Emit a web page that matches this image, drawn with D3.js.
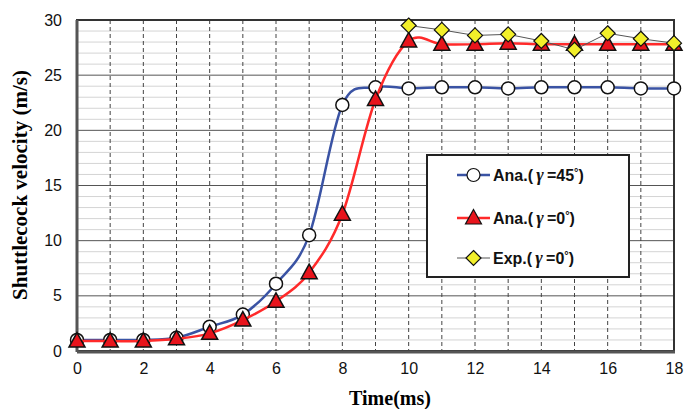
<!DOCTYPE html>
<html><head><meta charset="utf-8">
<script src="https://cdn.jsdelivr.net/npm/d3@7"></script>
<style>body{margin:0;background:#fff}svg{display:block}</style>
</head><body>
<svg id="c" width="685" height="409"></svg>
<script>
const times = [0,1,2,3,4,5,6,7,8,9,10,11,12,13,14,15,16,17,18];
const ana45 = [1.0,1.0,1.0,1.2,2.2,3.3,6.1,10.5,22.3,23.9,23.8,23.9,23.9,23.8,23.9,23.9,23.9,23.8,23.8];
const ana0 = [0.9,0.9,0.9,1.1,1.6,2.8,4.5,7.1,12.4,22.8,28.1,27.8,27.8,27.9,27.8,27.8,27.8,27.8,27.8];
const expTimes = [10,11,12,13,14,15,16,17,18];
const exp0 = [29.5,29.1,28.6,28.7,28.1,27.3,28.8,28.3,27.9];
const xTicks = [0,2,4,6,8,10,12,14,16,18];
const yTicks = [0,5,10,15,20,25,30];
const legendPrefix = ["Ana.","Ana.","Exp."];
const legendAngle = ["45","0","0"];

const svg = d3.select("#c");
const L = 77, R = 674, T = 20, B = 351;
const x = d3.scaleLinear().domain([0,18]).range([L,R]);
const y = d3.scaleLinear().domain([0,30]).range([B,T]);

// minor horizontal grid
svg.append("g").selectAll("line").data(d3.range(1,30).filter(v=>v%5!==0)).join("line")
  .attr("x1",L).attr("x2",R).attr("y1",d=>y(d)).attr("y2",d=>y(d))
  .attr("stroke","#d4d4d4").attr("stroke-width",1);
// major horizontal grid
svg.append("g").selectAll("line").data([5,10,15,20,25]).join("line")
  .attr("x1",L).attr("x2",R).attr("y1",d=>y(d)).attr("y2",d=>y(d))
  .attr("stroke","#555").attr("stroke-width",1);
// vertical dashed grid
svg.append("g").selectAll("line").data(d3.range(1,18)).join("line")
  .attr("x1",d=>x(d)).attr("x2",d=>x(d)).attr("y1",T).attr("y2",B)
  .attr("stroke","#444").attr("stroke-width",1).attr("stroke-dasharray","4,3");

// frame
svg.append("rect").attr("x",L).attr("y",T).attr("width",R-L).attr("height",B-T)
  .attr("fill","none").attr("stroke","#333").attr("stroke-width",2);
svg.append("line").attr("x1",L).attr("x2",L).attr("y1",T).attr("y2",B+1).attr("stroke","#555").attr("stroke-width",3);
svg.append("line").attr("x1",L).attr("x2",R+1).attr("y1",B+1).attr("y2",B+1).attr("stroke","#555").attr("stroke-width",3);

// axes tick labels
const xAxis = d3.axisBottom(x).tickValues(xTicks).tickSize(0).tickPadding(12);
const gx = svg.append("g").attr("transform",`translate(0,${B})`).call(xAxis);
gx.select(".domain").remove();
gx.selectAll("text").attr("font-family","'Liberation Sans',Arial,sans-serif").attr("font-size",16).attr("fill","#111");
const yAxis = d3.axisLeft(y).tickValues(yTicks).tickSize(0).tickPadding(15);
const gy = svg.append("g").attr("transform",`translate(${L},0)`).call(yAxis);
gy.select(".domain").remove();
gy.selectAll("text").attr("font-family","'Liberation Sans',Arial,sans-serif").attr("font-size",16).attr("fill","#111");

// axis titles
svg.append("text").attr("x",390).attr("y",405).attr("text-anchor","middle")
  .attr("font-family","'Liberation Serif','Times New Roman',serif").attr("font-weight","bold").attr("font-size",20)
  .text("Time(ms)");
svg.append("text").attr("transform","translate(27,185) rotate(-90)").attr("text-anchor","middle")
  .attr("font-family","'Liberation Serif','Times New Roman',serif").attr("font-weight","bold").attr("font-size",21)
  .text("Shuttlecock velocity (m/s)");

const smooth = d3.line().x(d=>x(d[0])).y(d=>y(d[1])).curve(d3.curveCatmullRom.alpha(0));
const straight = d3.line().x(d=>x(d[0])).y(d=>y(d[1]));

const blueColor = "#3a53a4", redColor = "#ff2a2a", yellow = "#f2ef2a";
const triPath = "M0,-8.5L8,6L-8,6Z";
const diaPath = "M0,-7.5L7.5,0L0,7.5L-7.5,0Z";

// blue series
const bd = times.map((t,i)=>[t,ana45[i]]);
svg.append("path").attr("d",smooth(bd)).attr("fill","none").attr("stroke",blueColor).attr("stroke-width",2.5);
svg.append("g").selectAll("circle").data(bd).join("circle")
  .attr("cx",d=>x(d[0])).attr("cy",d=>y(d[1])).attr("r",6.5)
  .attr("fill","#fff").attr("stroke","#111").attr("stroke-width",1.5);

// red series
const rd = times.map((t,i)=>[t,ana0[i]]);
svg.append("path").attr("d",smooth(rd)).attr("fill","none").attr("stroke",redColor).attr("stroke-width",2.5);
svg.append("g").selectAll("path").data(rd).join("path")
  .attr("transform",d=>`translate(${x(d[0])},${y(d[1])})`).attr("d",triPath)
  .attr("fill","#e8141c").attr("stroke","#111").attr("stroke-width",1.5);

// exp series
const ed = expTimes.map((t,i)=>[t,exp0[i]]);
svg.append("path").attr("d",straight(ed)).attr("fill","none").attr("stroke","#555").attr("stroke-width",1);
svg.append("g").selectAll("path").data(ed).join("path")
  .attr("transform",d=>`translate(${x(d[0])},${y(d[1])})`).attr("d",diaPath)
  .attr("fill",yellow).attr("stroke","#111").attr("stroke-width",1.2);

// legend
const lg = svg.append("g");
lg.append("rect").attr("x",427).attr("y",155).attr("width",202).attr("height",122)
  .attr("fill","#fff").attr("stroke","#222").attr("stroke-width",2);
const ly = [175,218,258];
const lcol = [blueColor,redColor,"#555"];
legendPrefix.forEach((pre,i)=>{
  const g = lg.append("g").attr("transform",`translate(0,${ly[i]})`);
  g.append("line").attr("x1",457).attr("x2",490).attr("y1",0).attr("y2",0)
    .attr("stroke",lcol[i]).attr("stroke-width",i===2?1:2.5);
  if(i===0) g.append("circle").attr("cx",473.5).attr("cy",0).attr("r",6.5).attr("fill","#fff").attr("stroke","#111").attr("stroke-width",1.2);
  if(i===1) g.append("path").attr("transform","translate(473.5,0)").attr("d",triPath).attr("fill","#e8141c").attr("stroke","#111").attr("stroke-width",1.2);
  if(i===2) g.append("path").attr("transform","translate(473.5,0)").attr("d",diaPath).attr("fill",yellow).attr("stroke","#111").attr("stroke-width",1.2);
  const t = g.append("text").attr("x",493).attr("y",6).attr("font-family","'Liberation Sans',Arial,sans-serif")
    .attr("font-weight","bold").attr("font-size",16).attr("fill","#111");
  t.append("tspan").text(pre + "(\u2009");
  t.append("tspan").attr("font-style","italic").attr("font-family","'Liberation Serif',serif").attr("font-size",18).text("\u03B3");
  t.append("tspan").text("\u2009=" + legendAngle[i]);
  t.append("tspan").attr("font-size",11).attr("dy",-5).text("\u00B0");
  t.append("tspan").attr("dy",5).text(")");
});
</script>
</body></html>
